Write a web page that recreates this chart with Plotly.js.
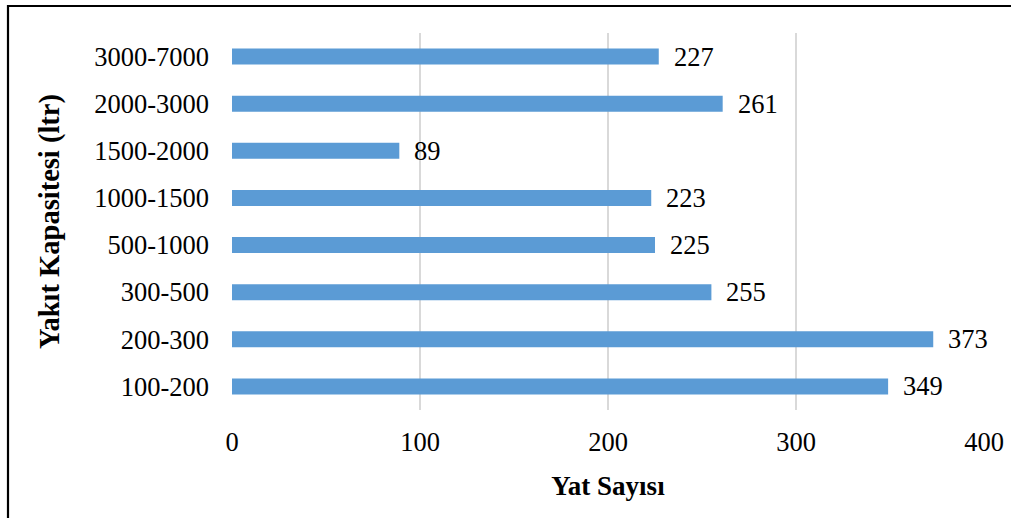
<!DOCTYPE html>
<html>
<head>
<meta charset="utf-8">
<script src="https://cdn.plot.ly/plotly-3.0.1.min.js"></script>
<style>
html,body{margin:0;padding:0;background:#fff;}
#chart{width:1011px;height:518px;}
</style>
</head>
<body>
<div id="chart"></div>
<script>
const categories = ["100-200","200-300","300-500","500-1000","1000-1500","1500-2000","2000-3000","3000-7000"];
const values = [349, 373, 255, 225, 223, 89, 261, 227];
const xTicks = [0, 100, 200, 300, 400];
const xTitle = "Yat Sayısı";
const yTitle = "Yakıt Kapasitesi (ltr)";

const FONT = "'Liberation Serif','Times New Roman',serif";

const trace = {
  type: "bar",
  orientation: "h",
  x: values,
  y: categories,
  marker: {color: "#5B9BD5"},
  hoverinfo: "x+y"
};

const annotations = values.map((v, i) => ({
  x: v, y: categories[i], xref: "x", yref: "y",
  text: String(v), showarrow: false, xanchor: "left", yanchor: "middle",
  xshift: 13, font: {family: FONT, size: 26.5, color: "#000"}
}));

const layout = {
  width: 1011, height: 518,
  margin: {l: 232, r: 27, t: 33, b: 108},
  paper_bgcolor: "#fff", plot_bgcolor: "#fff",
  bargap: 0.66,
  showlegend: false,
  font: {family: FONT, size: 26.5, color: "#000"},
  xaxis: {
    range: [0, 400],
    tickvals: xTicks,
    ticktext: xTicks.map(String),
    showgrid: true, gridcolor: "#d9d9d9", gridwidth: 1.5,
    zeroline: false, showline: false,
    ticks: "", ticklabelstandoff: 13,
    tickfont: {family: FONT, size: 26.5, color: "#000"},
    title: {text: "<b>" + xTitle + "</b>", font: {family: FONT, size: 27, color: "#000"}, standoff: 20},
    fixedrange: true
  },
  yaxis: {
    type: "category",
    categoryorder: "array", categoryarray: categories,
    showgrid: false, zeroline: false, showline: false,
    ticks: "", ticklabelstandoff: 22,
    tickfont: {family: FONT, size: 26.5, color: "#000"},
    title: {text: "<b>" + yTitle + "</b>", font: {family: FONT, size: 28.5, color: "#000"}, standoff: 26},
    fixedrange: true
  },
  annotations: annotations,
  shapes: [{
    type: "rect", xref: "paper", yref: "paper",
    x0: (8 - 232) / 752, x1: 1.5,
    y0: -1, y1: (410 - 6) / 377,
    line: {color: "#000", width: 2.2}, fillcolor: "rgba(0,0,0,0)"
  }]
};

Plotly.newPlot("chart", [trace], layout, {displayModeBar: false, staticPlot: true});
</script>
</body>
</html>
